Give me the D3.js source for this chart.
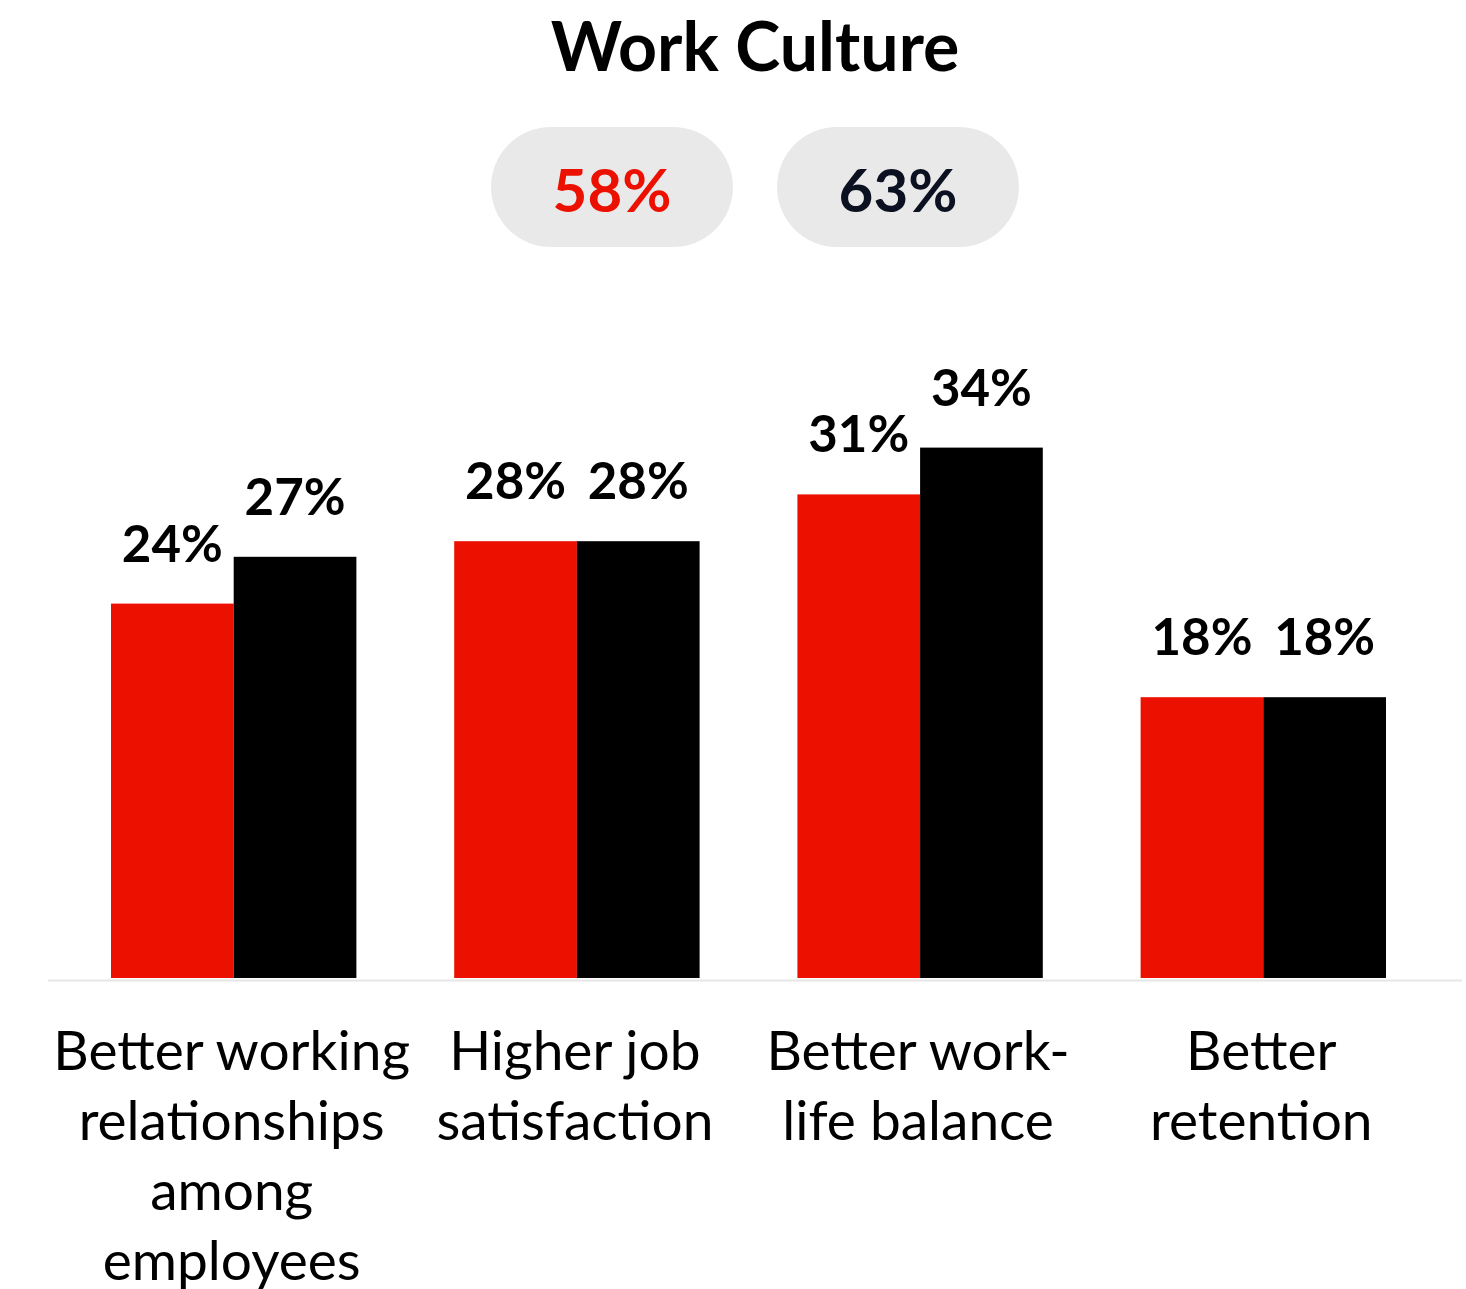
<!DOCTYPE html>
<html>
<head>
<meta charset="utf-8">
<script src="https://cdn.jsdelivr.net/npm/d3@7"></script>
<style>
  html, body { margin: 0; padding: 0; background: #fff; }
  svg { display: block; }
</style>
</head>
<body>
<svg id="chart" width="1466" height="1289"></svg>
<script>
// Chart data
const title = "Work Culture";
const categories = [
  ["Better working", "relationships", "among", "employees"],
  ["Higher job", "satisfaction"],
  ["Better work-", "life balance"],
  ["Better", "retention"]
];
const seriesNames = ["2023", "2024"];
const seriesA = [24, 28, 31, 18];
const seriesB = [27, 28, 34, 18];
const headlineValues = [58, 63];

const colors = ["#eb1000", "#000000"];
const headlineColors = ["#eb1000", "#0b1121"];
const FONT = "Lato, 'Open Sans', sans-serif";

const svg = d3.select("#chart");

// Title
svg.append("text")
  .attr("x", 755).attr("y", 71)
  .attr("text-anchor", "middle")
  .style("font-family", FONT).style("font-weight", 700).style("font-size", "68px")
  .attr("fill", "#000")
  .text(title);

// Headline pills
const pillX = d3.scaleBand().domain(d3.range(headlineValues.length)).range([491, 1019]).paddingInner(0.154);
const pills = svg.append("g").selectAll("g").data(headlineValues).join("g")
  .attr("transform", (d, i) => `translate(${pillX(i)},127)`);
pills.append("rect")
  .attr("width", pillX.bandwidth()).attr("height", 120)
  .attr("rx", 60).attr("ry", 60)
  .attr("fill", "#e9e9e9");
pills.append("text")
  .attr("x", pillX.bandwidth() / 2).attr("y", 85)
  .attr("text-anchor", "middle")
  .style("font-family", FONT).style("font-weight", 700).style("font-size", "60px")
  .attr("fill", (d, i) => headlineColors[i])
  .text(d => d + "%");

// Scales
const x0 = d3.scaleBand().domain(d3.range(categories.length)).range([111, 1386]).paddingInner(0.285).paddingOuter(0);
const x1 = d3.scaleBand().domain(seriesNames).range([0, x0.bandwidth()]).padding(0);
const y = d3.scaleLinear().domain([0, 35]).range([978, 432]);

const rows = categories.map((c, i) => ({ i, values: [seriesA[i], seriesB[i]] }));

// Baseline
svg.append("line")
  .attr("x1", 48).attr("x2", 1462)
  .attr("y1", 980.5).attr("y2", 980.5)
  .attr("stroke", "#e6e6e6").attr("stroke-width", 2);

const groups = svg.append("g").selectAll("g").data(rows).join("g")
  .attr("transform", d => `translate(${x0(d.i)},0)`);

groups.selectAll("rect")
  .data(d => d.values.map((v, k) => ({ k, v })))
  .join("rect")
  .attr("x", d => x1(seriesNames[d.k]))
  .attr("width", x1.bandwidth())
  .attr("y", d => y(d.v))
  .attr("height", d => y(0) - y(d.v))
  .attr("fill", d => colors[d.k]);

groups.selectAll("text.val")
  .data(d => d.values.map((v, k) => ({ k, v })))
  .join("text")
  .attr("class", "val")
  .attr("x", d => x1(seriesNames[d.k]) + x1.bandwidth() / 2)
  .attr("y", d => y(d.v) - 42)
  .attr("text-anchor", "middle")
  .style("font-family", FONT).style("font-weight", 700).style("font-size", "51px")
  .attr("fill", "#000")
  .text(d => d.v + "%");

// Category labels
const labels = svg.append("g").selectAll("text").data(categories).join("text")
  .attr("x", (d, i) => x0(i) + x0.bandwidth() / 2 - 2)
  .attr("y", 1070)
  .attr("text-anchor", "middle")
  .style("font-family", FONT).style("font-weight", 400).style("font-size", "55px")
  .attr("fill", "#000");
labels.selectAll("tspan").data(d => d).join("tspan")
  .attr("x", function () { return this.parentNode.getAttribute("x"); })
  .attr("dy", (d, j) => j === 0 ? 0 : 70)
  .text(d => d);
</script>
</body>
</html>
